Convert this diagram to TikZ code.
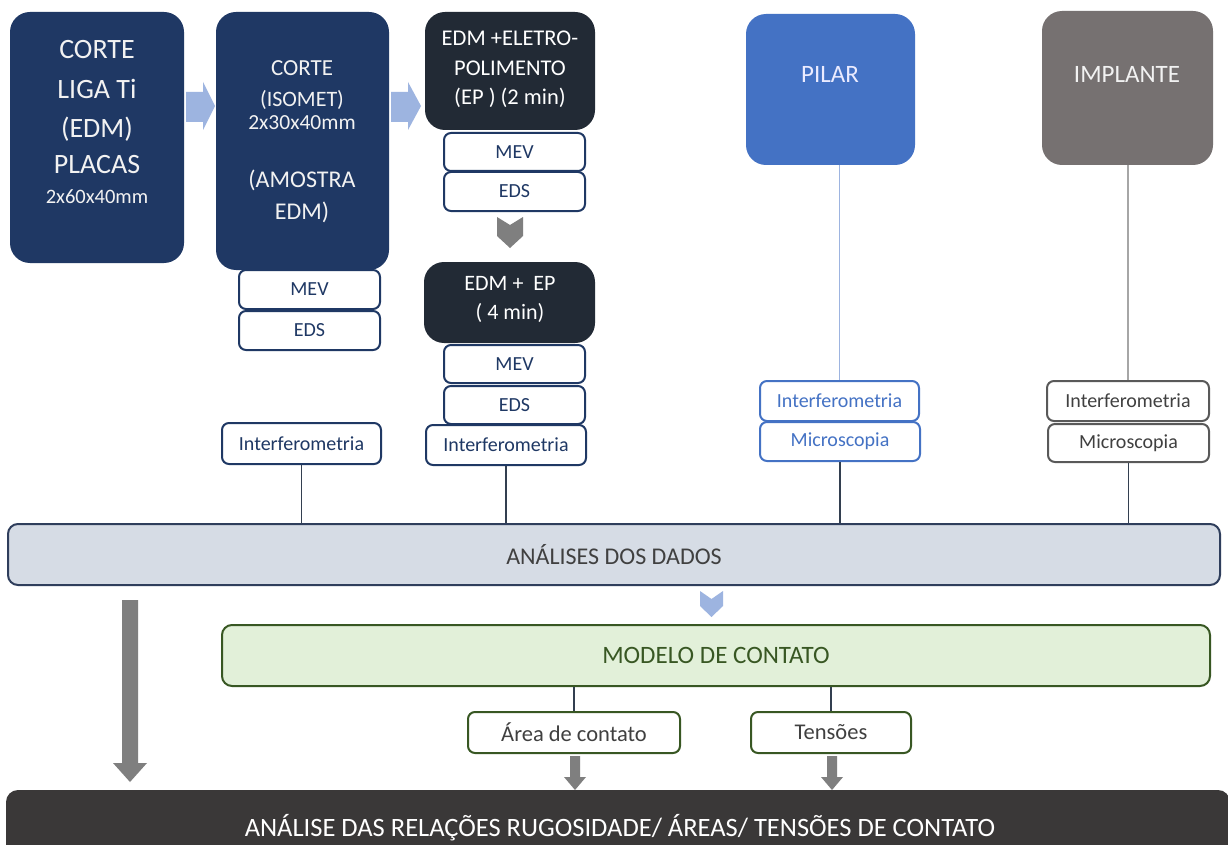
\documentclass[tikz,border=0pt]{standalone}
\usepackage{fontspec}
\setmainfont{Carlito}
\usetikzlibrary{backgrounds}
\definecolor{navy}{HTML}{1F3864}
\definecolor{slate}{HTML}{222A35}
\definecolor{lblue}{HTML}{9DB4E0}
\definecolor{arrgray}{HTML}{7F7F7F}
\definecolor{pilarc}{HTML}{4472C4}
\definecolor{implc}{HTML}{767171}
\definecolor{anafill}{HTML}{D6DCE5}
\definecolor{anadraw}{HTML}{2F3E5C}
\definecolor{modfill}{HTML}{E2F0D9}
\definecolor{grn}{HTML}{385723}
\definecolor{botc}{HTML}{3A3838}
\definecolor{txtgray}{HTML}{404040}
\definecolor{linec}{HTML}{333F50}
\newcommand\fs[1]{\fontsize{#1}{#1}\selectfont}
\tikzset{
  bigbox/.style={rectangle, rounded corners=20pt, inner sep=0pt},
  subbox/.style={rectangle, rounded corners=7pt, draw=navy, line width=2pt, fill=white,
    inner sep=0pt, text=navy, font=\fs{20}},
  pilsub/.style={subbox, draw=pilarc, text=pilarc},
  impsub/.style={subbox, draw=black!65, text=txtgray},
  grnsub/.style={subbox, draw=grn, text=txtgray, font=\fs{22.5}},
  tline/.style={anchor=base, inner sep=0pt},
  conn/.style={line width=1.5pt, draw=navy},
  gconn/.style={line width=1.3pt, draw=black!60},
  dconn/.style={line width=1.2pt, draw=linec},
  blockarr/.style={fill=lblue, draw=none},
  grayarr/.style={fill=arrgray, draw=none},
}
\begin{document}
\begin{tikzpicture}[x=1pt,y=-1pt]
\useasboundingbox (0,0) rectangle (1228,845);
\fill[white] (0,0) rectangle (1228,845);

% top boxes
\node[bigbox, fill=navy, minimum width=174pt, minimum height=251pt] (b1) at (97,137.5) {};
\node[bigbox, fill=navy, minimum width=173pt, minimum height=258pt] (b2) at (302.5,141) {};
\node[bigbox, fill=slate, minimum width=170pt, minimum height=118pt] (b3) at (510,71) {};
\node[bigbox, fill=slate, minimum width=171pt, minimum height=81pt] (b4) at (509.5,302.5) {};
\node[bigbox, fill=pilarc, minimum width=169pt, minimum height=151pt] (pil) at (830.5,89.5) {};
\node[bigbox, fill=implc, minimum width=171pt, minimum height=154pt] (imp) at (1127.5,88) {};

% texts in top boxes
\begin{scope}[every node/.style={tline, text=white!95!black}]
\node[font=\fs{28}] (t1a) at (97,59) {CORTE};
\node[font=\fs{28}] (t1b) at (97,99) {LIGA Ti};
\node[font=\fs{28}] (t1c) at (97,138) {(EDM)};
\node[font=\fs{28}] (t1d) at (97,174) {PLACAS};
\node[font=\fs{20.5}] (t1e) at (97,204) {2x60x40mm};
\node[font=\fs{23}] (t2a) at (302,76) {CORTE};
\node[font=\fs{22}] (t2b) at (302,107) {(ISOMET)};
\node[font=\fs{21.5}] (t2c) at (302,130) {2x30x40mm};
\node[font=\fs{24}] (t2d) at (302,188) {(AMOSTRA};
\node[font=\fs{24}] (t2e) at (302,219) {EDM)};
\node[font=\fs{22.5}, text=white] (t3a) at (510,46) {EDM +ELETRO-};
\node[font=\fs{22.5}, text=white] (t3b) at (510,76) {POLIMENTO};
\node[font=\fs{22.5}, text=white] (t3c) at (510,105) {(EP ) (2 min)};
\node[font=\fs{22}, text=white] (t4a) at (510,290) {EDM +\ \ EP};
\node[font=\fs{22}, text=white] (t4b) at (510,319) {( 4 min)};
\node[font=\fs{25}, text=blue!8!white] (tp) at (830,83) {PILAR};
\node[font=\fs{25}, text=white!95!black] (ti) at (1127,83) {IMPLANTE};
\end{scope}

% sub boxes
\node[subbox, minimum width=141pt, minimum height=38pt] (b3mev) at (514.5,152) {MEV};
\node[subbox, minimum width=141pt, minimum height=39pt] (b3eds) at (514.5,191.5) {EDS};
\node[subbox, minimum width=141pt, minimum height=38pt] (b4mev) at (514.5,364) {MEV};
\node[subbox, minimum width=141pt, minimum height=38pt] (b4eds) at (514.5,405) {EDS};
\node[subbox, minimum width=160pt, minimum height=40pt] (b4int) at (506,445) {Interferometria};
\node[subbox, minimum width=141pt, minimum height=39pt] (b2mev) at (309.5,289.5) {MEV};
\node[subbox, minimum width=141pt, minimum height=39pt] (b2eds) at (309.5,330.5) {EDS};
\node[subbox, minimum width=159pt, minimum height=41pt] (b2int) at (301.5,443.5) {Interferometria};
\node[pilsub, minimum width=159pt, minimum height=40pt] (pint) at (839.5,401) {Interferometria};
\node[pilsub, minimum width=160pt, minimum height=39pt] (pmic) at (840,441.5) {Microscopia};
\node[impsub, minimum width=162pt, minimum height=40pt] (iint) at (1128,401) {Interferometria};
\node[impsub, minimum width=161pt, minimum height=38pt] (imic) at (1128.5,443) {Microscopia};

% analysis bars
\node[rectangle, rounded corners=10pt, fill=anafill, draw=anadraw, line width=2pt,
  minimum width=1212pt, minimum height=61pt, inner sep=0pt, text=txtgray, font=\fs{24}]
  (ana) at (614,554.5) {\raisebox{-4pt}{ANÁLISES DOS DADOS}};
\node[rectangle, rounded corners=10pt, fill=modfill, draw=grn, line width=2pt,
  minimum width=988pt, minimum height=61pt, inner sep=0pt, text=grn, font=\fs{25}]
  (mod) at (716,655.5) {\raisebox{-2pt}{MODELO DE CONTATO}};
\node[grnsub, minimum width=212pt, minimum height=41pt] (area) at (574,732.5) {Área de contato};
\node[grnsub, minimum width=160pt, minimum height=41pt] (tens) at (831,732.5) {Tensões};
\node[rectangle, rounded corners=12pt, fill=botc, minimum width=1224pt, minimum height=90pt,
  inner sep=0pt] (bot) at (618,835) {};
\node[tline, text=white, font=\fs{26.5}] (tbot) at (620,836) {ANÁLISE DAS RELAÇÕES RUGOSIDADE/ ÁREAS/ TENSÕES DE CONTATO};

% connectors
\begin{scope}[on background layer]
\draw[conn] (b2.south -| b2int.west) ++(0,-20) -- (b2int.north west);
\draw[conn] (b2mev.west) -- (b2mev.west -| b2int.west);
\draw[conn] (b2eds.west) -- (b2eds.west -| b2int.west);
\coordinate (c3) at (428,0);
\draw[gconn] (b3.south -| c3) ++(0,-10) -- (b3eds.west -| c3) -- (b3eds.west);
\draw[gconn] (b3mev.west) -- (b3mev.west -| c3);
\draw[gconn] (b4.south -| c3) ++(0,-10) -- (b4eds.west -| c3) -- (b4eds.west);
\draw[gconn] (b4mev.west) -- (b4mev.west -| c3);
\end{scope}
\draw[line width=1.3pt, draw=lblue] (pil.south -| pint.north) -- (pint.north);
\draw[line width=1.3pt, draw=black!35] (imp.south -| iint.north) -- (iint.north);
\draw[dconn] (b2int.south) -- (b2int.south |- ana.north);
\draw[dconn] (b4int.south) -- (b4int.south |- ana.north);
\draw[dconn] (pmic.south) -- (pmic.south |- ana.north);
\draw[dconn] (imic.south) -- (imic.south |- ana.north);
\draw[dconn] (mod.south -| area.north) -- (area.north);
\draw[dconn] (mod.south -| tens.north) -- (tens.north);

% block arrows
\fill[blockarr] (186,92) -- (203,92) -- (203,82) -- (215,106) -- (203,130) -- (203,122) -- (186,122) -- cycle;
\fill[blockarr] (391,92) -- (408,92) -- (408,82) -- (421,106) -- (408,130) -- (408,122) -- (391,122) -- cycle;
\fill[grayarr] (497,217) -- (510,225) -- (523,217) -- (523,236) -- (510,248) -- (497,236) -- cycle;
\fill[blockarr] (700,591) -- (711.5,599) -- (723,591) -- (723,606) -- (711.5,617) -- (700,606) -- cycle;
\fill[grayarr] (122,600) -- (138,600) -- (138,763) -- (147,763) -- (130,782) -- (113,763) -- (122,763) -- cycle;
\fill[grayarr] (570,756) -- (580,756) -- (580,777) -- (586,777) -- (575,790) -- (564,777) -- (570,777) -- cycle;
\fill[grayarr] (827,756) -- (837,756) -- (837,777) -- (843,777) -- (832,790) -- (821,777) -- (827,777) -- cycle;
\end{tikzpicture}
\end{document}
